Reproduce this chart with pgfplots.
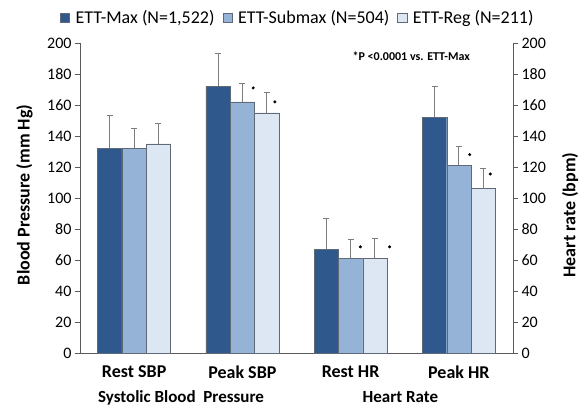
\documentclass[border=0pt]{standalone}
\usepackage{pgfplots}
\pgfplotsset{compat=1.18}
\usepackage{fontspec}
\setmainfont{Carlito}
\definecolor{cdark}{RGB}{47,88,140}
\definecolor{cmid}{RGB}{149,179,215}
\definecolor{clight}{RGB}{221,231,243}
\definecolor{cedge}{RGB}{95,105,120}
\definecolor{cerr}{RGB}{125,125,125}
\definecolor{caxis}{RGB}{90,90,90}
\begin{document}
\begin{tikzpicture}
\path[use as bounding box] (-80pt,-53pt) rectangle (503pt,353pt);
\begin{axis}[
  scale only axis, width=433pt, height=310pt,
  xmin=-0.5, xmax=3.5, ymin=0, ymax=200,
  axis x line*=bottom, axis y line*=left,
  axis line style={caxis, line width=0.8pt},
  every tick/.style={caxis, line width=0.8pt},
  tick align=outside, major tick length=5pt,
  ytick={0,20,...,200},
  yticklabel style={font=\fontsize{16}{16}\selectfont},
  /pgf/number format/assume math mode=true,
  xtick={0,1,2,3},
  xticklabels={Rest SBP, Peak SBP, Rest HR, Peak HR},
  xticklabel style={font=\fontsize{18}{18}\selectfont\bfseries, yshift=-4pt},
  major x tick style={draw=none},
  extra x ticks={0.5,1.5,2.5},
  extra x tick labels={},
  extra x tick style={major x tick style={caxis, line width=0.8pt}, major tick length=5pt},
  ybar=0pt, bar width=24.3pt,
  legend style={at={(0.503,1.081)}, anchor=center, draw=none, legend columns=3,
    font=\fontsize{18}{18}\selectfont, column sep=4pt,
    /tikz/every even column/.append style={column sep=6pt}},
  legend image code/.code={\draw[#1, draw=cedge] (0cm,-0.15cm) rectangle (0.32cm,0.17cm);},
  error bars/y dir=plus, error bars/y explicit,
  error bars/error bar style={cerr, line width=0.9pt},
  error bars/error mark options={cerr, line width=0.9pt, mark size=3pt, rotate=90},
  clip=false,
]
\addplot[fill=cdark, draw=cedge] coordinates {(0,132) +- (0,21) (1,172) +- (0,21) (2,67) +- (0,20) (3,152) +- (0,20)};
\addplot[fill=cmid, draw=cedge] coordinates {(0,132) +- (0,13) (1,162) +- (0,12) (2,61) +- (0,12) (3,121) +- (0,12)};
\addplot[fill=clight, draw=cedge] coordinates {(0,135) +- (0,13) (1,155) +- (0,13) (2,61) +- (0,13) (3,106) +- (0,13)};
\legend{{ETT-Max (N=1,522)}, {ETT-Submax (N=504)}, {ETT-Reg (N=211)}}
\node[font=\fontsize{17}{17}\selectfont\bfseries, anchor=base] at (axis cs:0.433,0) [yshift=-50pt] {Systolic Blood\ \ Pressure};
\node[font=\fontsize{17}{17}\selectfont\bfseries, anchor=base] at (axis cs:2.46,0) [yshift=-50pt] {Heart Rate};
\node[font=\fontsize{12}{12}\selectfont\bfseries] at (axis cs:2.56,191.5) {*P <0.0001 vs. ETT-Max};
\node[font=\fontsize{18}{18}\selectfont\bfseries, rotate=90, anchor=center] at (rel axis cs:-0.128,0.51) {Blood Pressure (mm Hg)};
\end{axis}
\begin{axis}[
  scale only axis, width=433pt, height=310pt,
  xmin=-0.5, xmax=3.5, ymin=0, ymax=200,
  axis x line=none, axis y line*=right,
  axis line style={caxis, line width=0.8pt},
  every tick/.style={caxis, line width=0.8pt},
  tick align=outside, major tick length=5pt,
  ytick={0,20,...,200},
  yticklabel style={font=\fontsize{16}{16}\selectfont},
  /pgf/number format/assume math mode=true,
  clip=false,
]
\addplot[only marks, mark=*, mark size=1.3pt, black] coordinates {(1.10,171) (1.30,162) (2.09,68.5) (2.36,68.5) (3.10,128) (3.29,115.5)};
\node[font=\fontsize{18}{18}\selectfont\bfseries, rotate=90, anchor=center] at (rel axis cs:1.1316,0.445) {Heart rate (bpm)};
\end{axis}
\end{tikzpicture}
\end{document}
